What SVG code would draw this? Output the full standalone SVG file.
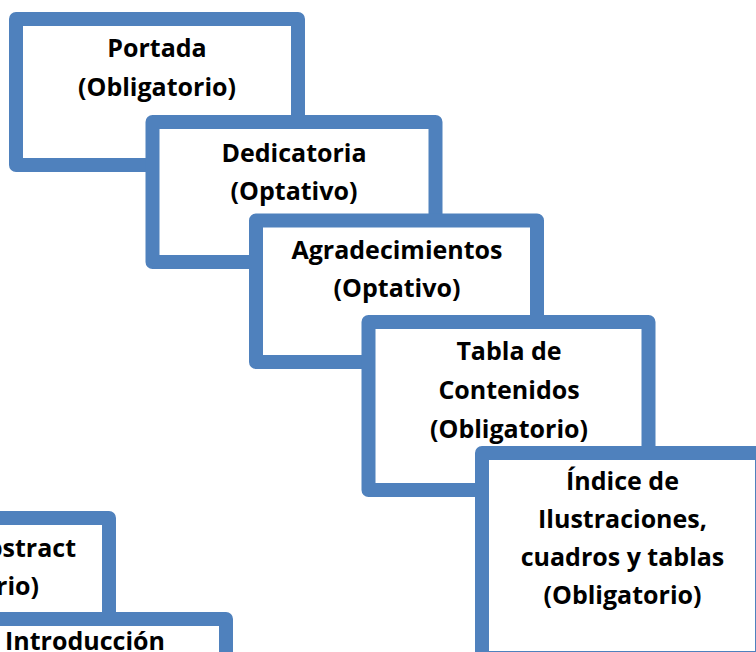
<svg xmlns="http://www.w3.org/2000/svg" width="756" height="652" viewBox="0 0 756 652">
<style>
.box{fill:#ffffff;stroke:#4F81BD;stroke-width:14;stroke-linejoin:round}
.t{font-family:"Open Sans","Liberation Sans",sans-serif;font-weight:bold;font-size:25px;fill:#000000;text-anchor:middle}
.te{font-family:"Open Sans","Liberation Sans",sans-serif;font-weight:bold;font-size:25px;fill:#000000;text-anchor:end}
</style>
<rect width="756" height="652" fill="#ffffff"/>
<g id="connectors"></g>
<g id="portada">
<rect class="box" x="16" y="19" width="282" height="146"/>
<text class="t" x="157" y="57">Portada</text>
<text class="t" x="157" y="96">(Obligatorio)</text>
</g>
<g id="dedicatoria">
<rect class="box" x="152.5" y="122" width="283" height="140"/>
<text class="t" x="294" y="162">Dedicatoria</text>
<text class="t" x="294" y="200">(Optativo)</text>
</g>
<g id="agradecimientos">
<rect class="box" x="256" y="220.5" width="281" height="141.5"/>
<text class="t" x="397" y="259">Agradecimientos</text>
<text class="t" x="397" y="297">(Optativo)</text>
</g>
<g id="tabla">
<rect class="box" x="368.5" y="322" width="280" height="168"/>
<text class="t" x="509" y="360">Tabla de</text>
<text class="t" x="509" y="399">Contenidos</text>
<text class="t" x="509" y="437.5">(Obligatorio)</text>
</g>
<g id="indice">
<rect class="box" x="482" y="453" width="280" height="205"/>
<text class="t" x="622.5" y="490">Índice de</text>
<text class="t" x="622.5" y="528">Ilustraciones,</text>
<text class="t" x="622.5" y="566">cuadros y tablas</text>
<text class="t" x="622.5" y="604">(Obligatorio)</text>
</g>
<g id="abstract">
<rect class="box" x="-172" y="518" width="281" height="143"/>
<text class="te" x="76" y="557">Abstract</text>
<text class="te" x="39" y="595">(Obligatorio)</text>
</g>
<g id="introduccion">
<rect class="box" x="-55" y="619" width="281" height="143"/>
<text class="t" x="85" y="650">Introducción</text>
</g>
</svg>
